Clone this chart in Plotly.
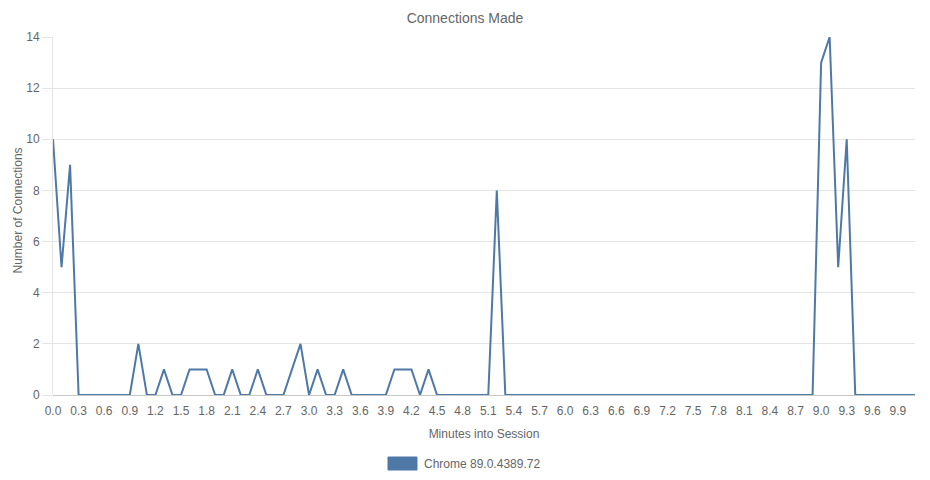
import plotly.graph_objects as go

minutes = [f"{i/10:.1f}" for i in range(102)]
connections = [
    10, 5, 9, 0, 0, 0, 0, 0, 0, 0,
    2, 0, 0, 1, 0, 0, 1, 1, 1, 0,
    0, 1, 0, 0, 1, 0, 0, 0, 1, 2,
    0, 1, 0, 0, 1, 0, 0, 0, 0, 0,
    1, 1, 1, 0, 1, 0, 0, 0, 0, 0,
    0, 0, 8, 0, 0, 0, 0, 0, 0, 0,
    0, 0, 0, 0, 0, 0, 0, 0, 0, 0,
    0, 0, 0, 0, 0, 0, 0, 0, 0, 0,
    0, 0, 0, 0, 0, 0, 0, 0, 0, 0,
    13, 14, 5, 10, 0, 0, 0, 0, 0, 0,
    0, 0,
]
tick_labels = minutes[::3]
series_name = "Chrome 89.0.4389.72"

LINE = "#4e79a7"
TXT = "#666666"
FONT = "Liberation Sans, Arial, Helvetica, sans-serif"

# page has an 8px body margin; figure coordinates = page coordinates - 8
W, H = 922, 472
OFF = 8
PL, PR, PT, PB = 53 - OFF, 915 - OFF, 37 - OFF, 395 - OFF
PW, PH = PR - PL, PB - PT

def px(xp):
    return (xp - OFF - PL) / PW

def py(yp):
    return (PB - (yp - OFF)) / PH

fig = go.Figure()
fig.add_trace(go.Scatter(
    x=minutes, y=connections, mode="lines", name=series_name,
    line=dict(color=LINE, width=2), showlegend=False,
))

fig.update_layout(
    width=W, height=H,
    margin=dict(l=PL, r=W - PR, t=PT, b=H - PB, autoexpand=False),
    paper_bgcolor="white", plot_bgcolor="white",
    font=dict(family=FONT, size=12, color=TXT),
    title=dict(text="Connections Made", x=(465 - OFF) / W, xanchor="center",
               y=1 - (18 - OFF) / H, yanchor="middle",
               font=dict(size=14, color=TXT, family=FONT)),
    xaxis=dict(
        type="category", range=[0, 101],
        tickmode="array", tickvals=tick_labels, ticktext=tick_labels,
        showgrid=False, zeroline=False, showline=False,
        ticks="", ticklabelstandoff=7, tickfont=dict(size=12, color=TXT),
        title=dict(text="Minutes into Session", standoff=12,
                   font=dict(size=12, color=TXT)),
    ),
    yaxis=dict(
        range=[0, 14], tickmode="linear", tick0=0, dtick=2,
        showgrid=True, gridcolor="#e5e5e5", gridwidth=1,
        zeroline=True, zerolinecolor="#c8c8c8", zerolinewidth=1,
        showline=True, linecolor="#e5e5e5", linewidth=1,
        ticks="outside", ticklen=10, tickcolor="#e5e5e5",
        tickfont=dict(size=12, color=TXT),
    ),
    shapes=[dict(type="rect", xref="paper", yref="paper",
                 x0=px(388), x1=px(417), y0=py(457), y1=py(470),
                 fillcolor=LINE, line=dict(color=LINE, width=1))],
    annotations=[
        dict(text=series_name, xref="paper", yref="paper",
             x=px(422), y=py(463.5),
             xanchor="left", yanchor="middle", showarrow=False,
             font=dict(size=12, color=TXT, family=FONT)),
        dict(text="Number of Connections", xref="paper", yref="paper",
             x=px(8.5), y=py(211), textangle=-90,
             xanchor="left", yanchor="middle", showarrow=False,
             font=dict(size=12, color=TXT, family=FONT)),
    ],
)

fig.write_html("out.html")
